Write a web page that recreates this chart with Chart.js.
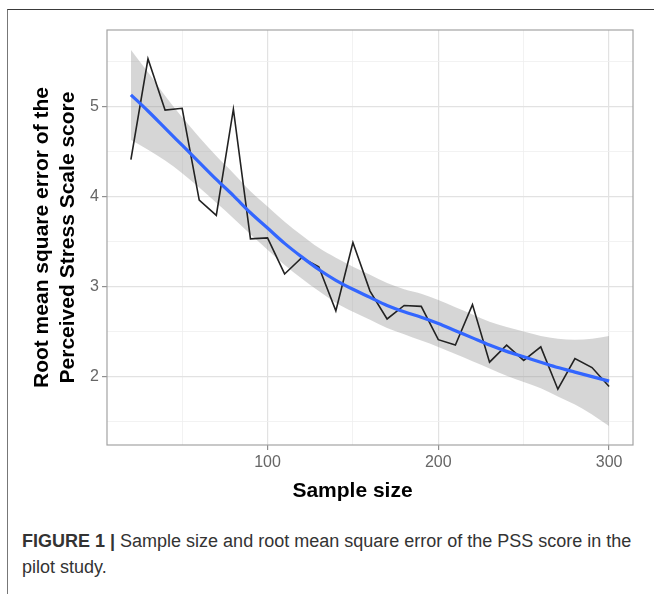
<!DOCTYPE html>
<html>
<head>
<meta charset="utf-8">
<script src="https://cdn.jsdelivr.net/npm/chart.js@4.4.1/dist/chart.umd.min.js"></script>
<style>
  body { margin: 0; background: #fff; }
  #figure { position: relative; width: 654px; height: 594px; overflow: hidden; background: #fff; }
  #frame { position: absolute; left: 7px; top: 9px; right: 0; bottom: 0; border-top: 1.5px solid #3a3a3a; border-left: 1.5px solid #777; }
  #chart { position: absolute; left: 0; top: 0; }
  #caption { position: absolute; left: 22px; top: 528px; font-family: "Liberation Sans", Arial, sans-serif; font-size: 18px; line-height: 26px; color: #333; white-space: nowrap; }
</style>
</head>
<body>
<div id="figure">
  <div id="frame"></div>
  <canvas id="chart" width="654" height="510"></canvas>
  <div id="caption"><b>FIGURE 1 |</b> Sample size and root mean square error of the PSS score in the<br>pilot study.</div>
</div>
<script>
// data
var sampleSize = [20, 30, 40, 50, 60, 70, 80, 90, 100, 110, 120, 130, 140, 150, 160,
                  170, 180, 190, 200, 210, 220, 230, 240, 250, 260, 270, 280, 290, 300];
var rmse = [4.41, 5.53, 4.96, 4.98, 3.96, 3.79, 4.97, 3.53, 3.54, 3.14, 3.32, 3.22, 2.73, 3.49, 2.95,
            2.64, 2.79, 2.78, 2.41, 2.35, 2.80, 2.16, 2.35, 2.18, 2.33, 1.86, 2.20, 2.10, 1.89];
var smoothFit = [5.13, 4.95, 4.76, 4.57, 4.38, 4.19, 4.01, 3.82, 3.65, 3.48, 3.33, 3.19, 3.07, 2.97, 2.88,
                 2.79, 2.72, 2.66, 2.59, 2.51, 2.43, 2.35, 2.28, 2.22, 2.16, 2.10, 2.05, 2.00, 1.95];
var ciUpper = [5.63, 5.38, 5.12, 4.88, 4.66, 4.45, 4.26, 4.06, 3.89, 3.72, 3.57, 3.43, 3.32, 3.22, 3.13,
               3.04, 2.97, 2.92, 2.85, 2.77, 2.69, 2.61, 2.55, 2.50, 2.45, 2.42, 2.41, 2.42, 2.45];
var ciLower = [4.63, 4.52, 4.40, 4.26, 4.10, 3.93, 3.76, 3.58, 3.41, 3.24, 3.09, 2.95, 2.82, 2.72, 2.63,
               2.54, 2.47, 2.40, 2.33, 2.25, 2.17, 2.09, 2.01, 1.94, 1.87, 1.78, 1.69, 1.58, 1.45];

var xTicks = [50, 100, 150, 200, 250, 300];
var yTicks = [1.5, 2, 2.5, 3, 3.5, 4, 4.5, 5, 5.5];
var xRange = [6, 314];
var yRange = [1.24, 5.85];

function pts(ys) {
    return sampleSize.map(function(x, i) { return { x: x, y: ys[i] }; });
}

var FONT = '"Liberation Sans", Arial, sans-serif';
var isMajorX = function(v) { return v % 100 === 0; };
var isMajorY = function(v) { return Number.isInteger(v); };

// ggplot-like panel border on all four sides
var panelBorder = {
    id: 'panelBorder',
    afterDraw: function(chart) {
        var ctx = chart.ctx, a = chart.chartArea;
        ctx.save();
        ctx.strokeStyle = '#a3a3a3';
        ctx.lineWidth = 1.2;
        ctx.strokeRect(a.left, a.top, a.right - a.left, a.bottom - a.top);
        ctx.restore();
    }
};

var ctx = document.getElementById('chart').getContext('2d');
var rmseChart = new Chart(ctx, {
    type: 'line',
    data: {
        datasets: [
            {
                label: 'loess',
                data: pts(smoothFit),
                borderColor: '#3366ff',
                borderWidth: 3.2,
                pointRadius: 0,
                cubicInterpolationMode: 'monotone',
                fill: false,
                order: 0,
            },
            {
                label: 'RMSE',
                data: pts(rmse),
                borderColor: '#222',
                borderWidth: 1.6,
                pointRadius: 0,
                tension: 0,
                fill: false,
                order: 1,
            },
            {
                label: 'upper',
                data: pts(ciUpper),
                borderColor: 'rgba(0,0,0,0)',
                borderWidth: 0,
                pointRadius: 0,
                cubicInterpolationMode: 'monotone',
                backgroundColor: 'rgba(153,153,153,0.4)',
                fill: '+1',
                order: 2,
            },
            {
                label: 'lower',
                data: pts(ciLower),
                borderColor: 'rgba(0,0,0,0)',
                borderWidth: 0,
                pointRadius: 0,
                cubicInterpolationMode: 'monotone',
                fill: false,
                order: 3,
            },
        ],
    },
    options: {
        responsive: false,
        animation: false,
        devicePixelRatio: 1,
        layout: { padding: { top: 30, right: 21, left: 0, bottom: 0 } },
        plugins: {
            legend: { display: false },
            tooltip: { enabled: false },
        },
        scales: {
            x: {
                type: 'linear',
                min: xRange[0],
                max: xRange[1],
                afterFit: function(s) { s.height = 65; },
                afterBuildTicks: function(s) { s.ticks = xTicks.map(function(v) { return { value: v }; }); },
                border: { display: false },
                grid: {
                    color: function(c) { return isMajorX(c.tick.value) ? '#e2e2e2' : '#efefef'; },
                    lineWidth: function(c) { return isMajorX(c.tick.value) ? 1.2 : 0.8; },
                    tickColor: function(c) { return isMajorX(c.tick.value) ? '#8f8f8f' : 'rgba(0,0,0,0)'; },
                    tickLength: 5,
                },
                ticks: {
                    autoSkip: false,
                    maxRotation: 0,
                    padding: 3,
                    color: '#666',
                    font: { family: FONT, size: 16 },
                    callback: function(v) { return isMajorX(v) ? String(v) : ''; },
                },
                title: {
                    display: true,
                    // trailing spaces nudge the title left, as in the original
                    text: 'Sample size\u00a0\u00a0\u00a0\u00a0\u00a0\u00a0',
                    color: '#000',
                    font: { family: FONT, size: 21, weight: 'bold' },
                    padding: { top: 0, bottom: 6 },
                },
            },
            y: {
                type: 'linear',
                min: yRange[0],
                max: yRange[1],
                afterFit: function(s) { s.width = 107; },
                afterBuildTicks: function(s) { s.ticks = yTicks.map(function(v) { return { value: v }; }); },
                border: { display: false },
                grid: {
                    color: function(c) { return isMajorY(c.tick.value) ? '#e2e2e2' : '#efefef'; },
                    lineWidth: function(c) { return isMajorY(c.tick.value) ? 1.2 : 0.8; },
                    tickColor: function(c) { return isMajorY(c.tick.value) ? '#8f8f8f' : 'rgba(0,0,0,0)'; },
                    tickLength: 5,
                },
                ticks: {
                    autoSkip: false,
                    padding: 3,
                    color: '#666',
                    font: { family: FONT, size: 16 },
                    callback: function(v) { return isMajorY(v) ? String(v) : ''; },
                },
                title: {
                    display: true,
                    text: ['Root mean square error of the', 'Perceived Stress Scale score'],
                    color: '#000',
                    font: { family: FONT, size: 21, weight: 'bold', lineHeight: 1.2 },
                    padding: { top: 30, bottom: 0 },
                },
            },
        },
    },
    plugins: [panelBorder],
});
</script>
</body>
</html>
